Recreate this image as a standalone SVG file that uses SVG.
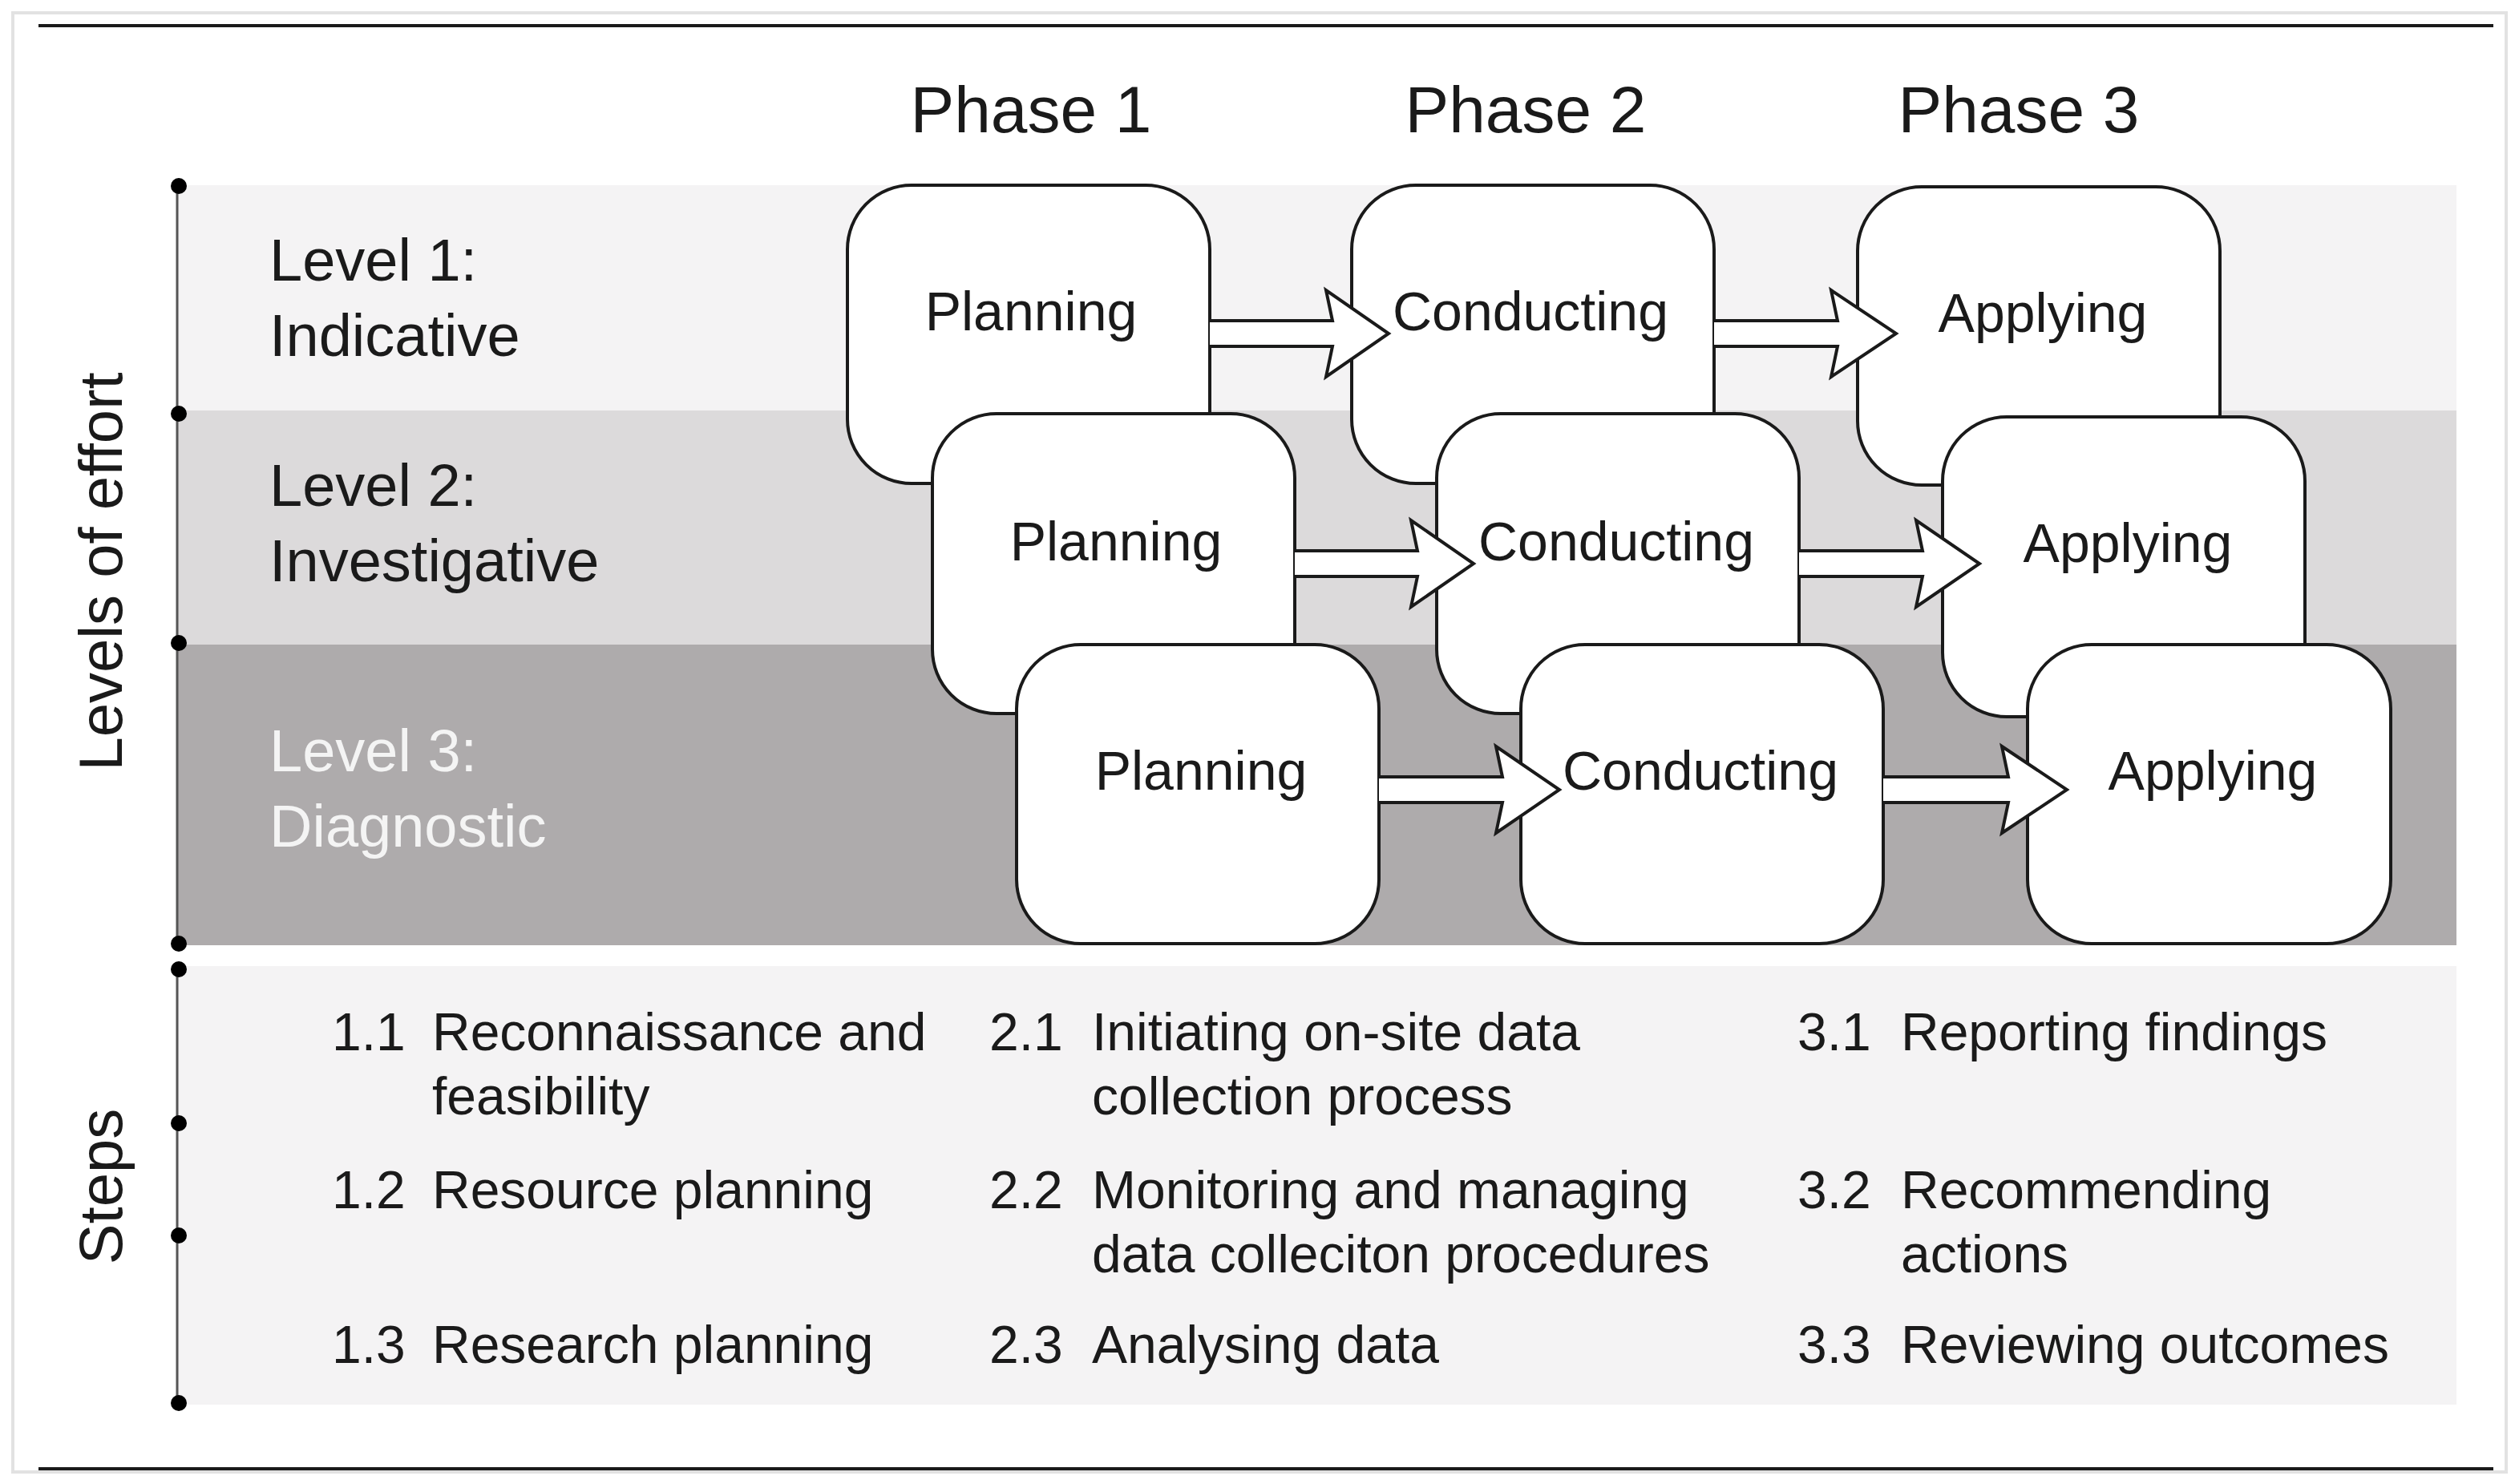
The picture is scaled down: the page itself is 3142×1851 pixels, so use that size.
<svg xmlns="http://www.w3.org/2000/svg" width="3142" height="1851" viewBox="0 0 3142 1851">
<style>
text{font-family:"Liberation Sans",Arial,sans-serif;fill:#1a1a1a}
.ph{font-size:82px;text-anchor:middle}
.lv{font-size:74px}
.nd{font-size:68px;text-anchor:middle}
.st{font-size:66px}
.box{fill:#fff;stroke:#1a1a1a;stroke-width:4}
.arr{fill:#fff;stroke:#1a1a1a;stroke-width:4;stroke-linejoin:miter}
.dot{fill:#000}
</style>
<rect x="0" y="0" width="3142" height="1851" fill="#fff"/>
<rect x="16" y="16" width="3110" height="1820" fill="none" stroke="#e2e2e2" stroke-width="4"/>
<line x1="48" y1="32" x2="3110" y2="32" stroke="#1a1a1a" stroke-width="4"/>
<line x1="48" y1="1832" x2="3110" y2="1832" stroke="#1a1a1a" stroke-width="4"/>
<g id="bands">
<rect x="221" y="231" width="2843" height="281" fill="#f4f3f4"/>
<rect x="221" y="512" width="2843" height="292" fill="#dcdadb"/>
<rect x="221" y="804" width="2843" height="375" fill="#aeabac"/>
<rect x="221" y="1205" width="2843" height="547" fill="#f4f3f4"/>
</g>
<g id="axis">
<line x1="221" y1="231" x2="221" y2="1179" stroke="#555" stroke-width="3"/>
<line x1="221" y1="1209" x2="221" y2="1751" stroke="#555" stroke-width="3"/>
<circle class="dot" cx="223" cy="232" r="10"/>
<circle class="dot" cx="223" cy="516" r="10"/>
<circle class="dot" cx="223" cy="802" r="10"/>
<circle class="dot" cx="223" cy="1177" r="10"/>
<circle class="dot" cx="223" cy="1209" r="10"/>
<circle class="dot" cx="223" cy="1401" r="10"/>
<circle class="dot" cx="223" cy="1541" r="10"/>
<circle class="dot" cx="223" cy="1750" r="10"/>
<text transform="translate(152,713) rotate(-90)" text-anchor="middle" font-size="76">Levels of effort</text>
<text transform="translate(152,1480) rotate(-90)" text-anchor="middle" font-size="76">Steps</text>
</g>
<g id="phases">
<text class="ph" x="1286" y="165">Phase 1</text>
<text class="ph" x="1903" y="165">Phase 2</text>
<text class="ph" x="2518" y="165">Phase 3</text>
</g>
<g id="levels">
<text class="lv" x="336" y="350">Level 1:</text>
<text class="lv" x="336" y="444">Indicative</text>
<text class="lv" x="336" y="631">Level 2:</text>
<text class="lv" x="336" y="725">Investigative</text>
<text class="lv" x="336" y="962" style="fill:#f4f4f4">Level 3:</text>
<text class="lv" x="336" y="1056" style="fill:#f4f4f4">Diagnostic</text>
</g>
<g id="row1">
<g id="n-plan1"><rect class="box" x="1057" y="231" width="452" height="372" rx="80"/><text class="nd" x="1286" y="412">Planning</text></g>
<g id="n-cond1"><rect class="box" x="1686" y="231" width="452" height="372" rx="80"/><text class="nd" x="1909" y="412">Conducting</text></g>
<g id="n-appl1"><rect class="box" x="2317" y="233" width="452" height="372" rx="80"/><text class="nd" x="2548" y="414">Applying</text></g>
</g>
<g id="connectors1">
<path class="arr" d="M1509,400 L1662,400 L1654,362 L1732,416 L1654,470 L1662,432 L1509,432"/>
<path class="arr" d="M2138,400 L2292,400 L2284,362 L2365,416 L2284,470 L2292,432 L2138,432"/>
</g>
<g id="row2">
<g id="n-plan2"><rect class="box" x="1163" y="516" width="452" height="374" rx="80"/><text class="nd" x="1392" y="699">Planning</text></g>
<g id="n-cond2"><rect class="box" x="1792" y="516" width="452" height="374" rx="80"/><text class="nd" x="2016" y="699">Conducting</text></g>
<g id="n-appl2"><rect class="box" x="2423" y="520" width="452" height="374" rx="80"/><text class="nd" x="2654" y="701">Applying</text></g>
</g>
<g id="connectors2">
<path class="arr" d="M1615,687 L1768,687 L1760,649 L1838,703 L1760,757 L1768,719 L1615,719"/>
<path class="arr" d="M2244,687 L2398,687 L2390,649 L2469,703 L2390,757 L2398,719 L2244,719"/>
</g>
<g id="row3">
<g id="n-plan3"><rect class="box" x="1268" y="804" width="452" height="373" rx="80"/><text class="nd" x="1498" y="985">Planning</text></g>
<g id="n-cond3"><rect class="box" x="1897" y="804" width="452" height="373" rx="80"/><text class="nd" x="2121" y="985">Conducting</text></g>
<g id="n-appl3"><rect class="box" x="2529" y="804" width="453" height="373" rx="80"/><text class="nd" x="2760" y="985">Applying</text></g>
</g>
<g id="connectors3">
<path class="arr" d="M1720,969 L1874,969 L1866,931 L1945,985 L1866,1039 L1874,1001 L1720,1001"/>
<path class="arr" d="M2349,969 L2505,969 L2497,931 L2578,985 L2497,1039 L2505,1001 L2349,1001"/>
</g>
<g id="steps">
<text class="st" x="414" y="1310">1.1</text><text class="st" x="539" y="1310">Reconnaissance and</text>
<text class="st" x="539" y="1390">feasibility</text>
<text class="st" x="414" y="1507">1.2</text><text class="st" x="539" y="1507">Resource planning</text>
<text class="st" x="414" y="1700">1.3</text><text class="st" x="539" y="1700">Research planning</text>
<text class="st" x="1234" y="1310">2.1</text><text class="st" x="1362" y="1310">Initiating on-site data</text>
<text class="st" x="1362" y="1390">collection process</text>
<text class="st" x="1234" y="1507">2.2</text><text class="st" x="1362" y="1507">Monitoring and managing</text>
<text class="st" x="1362" y="1587">data colleciton procedures</text>
<text class="st" x="1234" y="1700">2.3</text><text class="st" x="1362" y="1700">Analysing data</text>
<text class="st" x="2242" y="1310">3.1</text><text class="st" x="2371" y="1310">Reporting findings</text>
<text class="st" x="2242" y="1507">3.2</text><text class="st" x="2371" y="1507">Recommending</text>
<text class="st" x="2371" y="1587">actions</text>
<text class="st" x="2242" y="1700">3.3</text><text class="st" x="2371" y="1700">Reviewing outcomes</text>
</g>
</svg>
